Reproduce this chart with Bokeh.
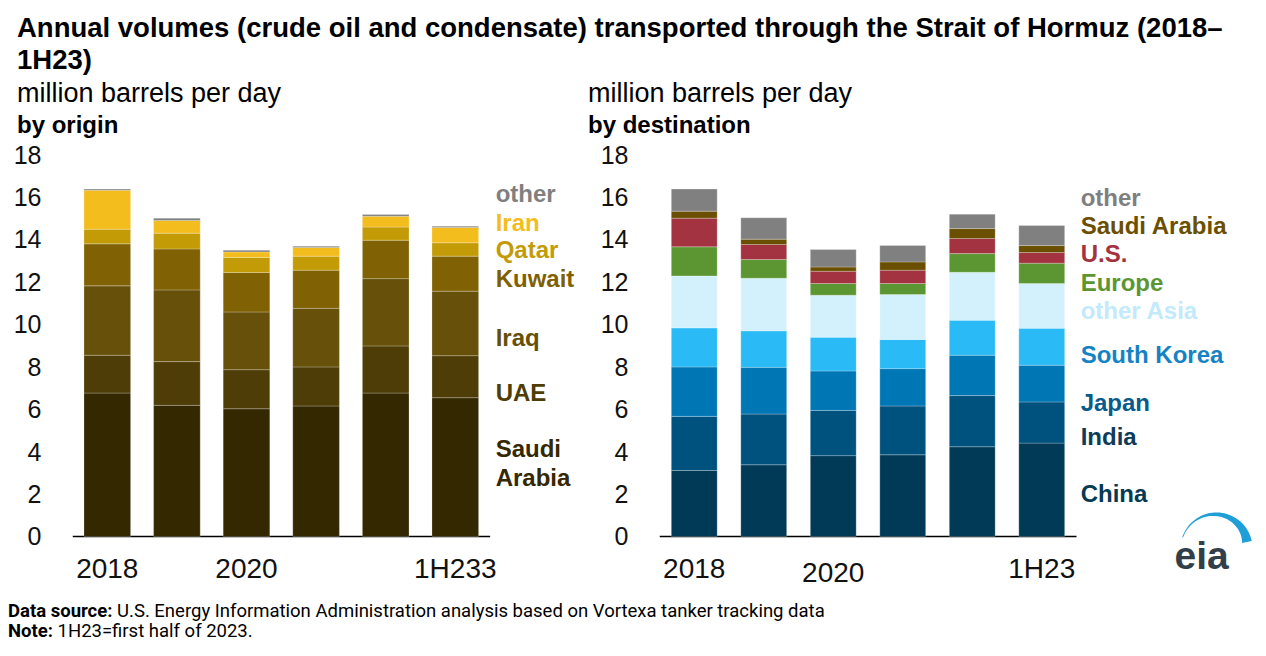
import numpy as np
from bokeh.plotting import figure
from bokeh.models import ColumnDataSource, Range1d, FixedTicker, Div
from bokeh.layouts import column, row
from bokeh.core.properties import value
from bokeh.embed import file_html
from bokeh.resources import INLINE

# ---------------- data ----------------
years = ["2018", "2019", "2020", "2021", "2022", "1H23"]
y_ticks = [0, 2, 4, 6, 8, 10, 12, 14, 16, 18]
left_x_labels = ["2018", "", "2020", "", "", "1H233"]
right_x_labels = ["2018", "", "2020", "", "", "1H23"]

# by origin (million barrels per day)
origin_saudi = [6.76, 6.18, 6.02, 6.15, 6.76, 6.54]
origin_uae = [1.78, 2.06, 1.84, 1.84, 2.22, 1.98]
origin_iraq = [3.27, 3.38, 2.72, 2.76, 3.17, 3.04]
origin_kuwait = [1.98, 1.93, 1.86, 1.80, 1.81, 1.65]
origin_qatar = [0.69, 0.74, 0.71, 0.66, 0.62, 0.63]
origin_iran = [1.84, 0.60, 0.26, 0.41, 0.51, 0.72]
origin_other = [0.05, 0.11, 0.08, 0.06, 0.08, 0.06]

# by destination (million barrels per day)
dest_china = [3.11, 3.38, 3.81, 3.85, 4.23, 4.40]
dest_india = [2.55, 2.39, 2.13, 2.30, 2.41, 1.94]
dest_japan = [2.33, 2.20, 1.86, 1.76, 1.90, 1.73]
dest_korea = [1.84, 1.72, 1.59, 1.37, 1.65, 1.74]
dest_other_asia = [2.45, 2.48, 1.98, 2.12, 2.26, 2.11]
dest_europe = [1.37, 0.88, 0.55, 0.52, 0.88, 0.96]
dest_us = [1.35, 0.71, 0.58, 0.63, 0.71, 0.50]
dest_saudi = [0.33, 0.25, 0.20, 0.39, 0.47, 0.33]
dest_other = [1.04, 1.01, 0.82, 0.77, 0.68, 0.94]

origin_names = ["Saudi", "Arabia", "UAE", "Iraq", "Kuwait", "Qatar", "Iran", "other"]
dest_names = ["China", "India", "Japan", "South Korea", "other Asia", "Europe", "U.S.",
              "Saudi Arabia", "other"]

# ---------------- styles / label positions ----------------
FONT = "Liberation Sans"
origin_keys = ["saudi", "uae", "iraq", "kuwait", "qatar", "iran", "other"]
origin_colors = ["#332800", "#4e3d06", "#67510a", "#806205", "#c29b07", "#f4bd1e", "#7f7f7f"]
origin_text_colors = ["#332800", "#332800", "#4e3d06", "#665009", "#7f6000", "#c29b07",
                      "#f4bd1e", "#7f7f7f"]
origin_label_y = [4.13, 2.77, 6.77, 9.39, 12.14, 13.51, 14.81, 16.15]

dest_keys = ["china", "india", "japan", "korea", "oasia", "europe", "us", "saudi", "other"]
dest_colors = ["#003a57", "#00527e", "#0077b5", "#2abaf5", "#d3f1fd", "#5b9632", "#a33341",
               "#6b4f00", "#808080"]
dest_text_colors = ["#043a52", "#0d3c5a", "#0a5a8a", "#1582c4", "#c2eafc", "#5b9632", "#a33341",
                    "#6b4f00", "#7f7f7f"]
dest_label_y = [2.01, 4.71, 6.33, 8.56, 10.65, 11.98, 13.32, 14.66, 15.99]

left_xlab_y = [-1.51] * 6
right_xlab_y = [-1.51, -1.51, -1.70, -1.51, -1.51, -1.51]

Y_MIN = -2.545
x_pos = [i + 0.5 for i in range(len(years))]


def make_fig(min_left, frame_w, unit_px):
    p = figure(x_range=Range1d(0, frame_w / unit_px), y_range=Range1d(Y_MIN, 18),
               frame_width=frame_w, frame_height=436,
               min_border_left=min_left, min_border_right=0,
               min_border_top=16, min_border_bottom=0,
               toolbar_location=None, output_backend="svg")
    p.outline_line_color = None
    p.xgrid.grid_line_color = None
    p.ygrid.grid_line_color = None
    p.xaxis.visible = False
    p.yaxis.ticker = FixedTicker(ticks=y_ticks)
    p.yaxis.axis_line_color = None
    p.yaxis.major_tick_line_color = None
    p.yaxis.minor_tick_line_color = None
    p.yaxis.major_label_standoff = 25
    p.yaxis.major_label_text_font = FONT
    p.yaxis.major_label_text_font_size = "25px"
    p.yaxis.major_label_text_color = "#111111"
    # baseline (category axis line)
    p.segment(x0=[0], x1=[len(years)], y0=[0], y1=[0], line_color="black", line_width=1.6)
    return p


# ---------------- left: by origin ----------------
src_o = ColumnDataSource(dict(x=x_pos, saudi=origin_saudi, uae=origin_uae, iraq=origin_iraq,
                              kuwait=origin_kuwait, qatar=origin_qatar, iran=origin_iran,
                              other=origin_other))
pl = make_fig(64, 508, 69.6)
pl.vbar_stack(origin_keys, x="x", width=0.67, source=src_o, fill_color=origin_colors,
              line_color="white", line_alpha=0.3, line_width=0.8)
pl.text(x=x_pos, y=left_xlab_y, text=left_x_labels, text_font=value(FONT),
        text_font_size="28px", text_color="#111111", text_align="center",
        text_baseline="middle")
pl.text(x=[6.08] * len(origin_names), y=origin_label_y, text=origin_names,
        text_font=value(FONT), text_font_size="24px", text_font_style="bold",
        text_color=origin_text_colors, text_align="left", text_baseline="middle")

# ---------------- right: by destination ----------------
src_d = ColumnDataSource(dict(x=x_pos, china=dest_china, india=dest_india, japan=dest_japan,
                              korea=dest_korea, oasia=dest_other_asia, europe=dest_europe,
                              us=dest_us, saudi=dest_saudi, other=dest_other))
pr = make_fig(79, 599, 69.5)
pr.vbar_stack(dest_keys, x="x", width=0.66, source=src_d, fill_color=dest_colors,
              line_color="white", line_alpha=0.3, line_width=0.8)
pr.text(x=x_pos, y=right_xlab_y, text=right_x_labels, text_font=value(FONT),
        text_font_size="28px", text_color="#111111", text_align="center",
        text_baseline="middle")
pr.text(x=[6.06] * len(dest_names), y=dest_label_y, text=dest_names,
        text_font=value(FONT), text_font_size="24px", text_font_style="bold",
        text_color=dest_text_colors, text_align="left", text_baseline="middle")

# eia logo (decoration) in the right panel
px0, pxu, py0, pyu = 659.0, 69.5, 536.0, 436.0 / (18 - Y_MIN)
th = np.radians(np.linspace(162, 12, 40))
s = (np.radians(162) - th) / np.radians(150)
t = 0.8 + 9.0 * s ** 1.6
cx, cy, rx, ry = 1216.0, 548.0, 36.0, 36.0
ox = cx + rx * np.cos(th)
oy = cy - ry * np.sin(th)
ix = cx + (rx - t) * np.cos(th)
iy = cy - (ry - t) * np.sin(th)
arc_x = np.concatenate([ox, ix[::-1]])
arc_y = np.concatenate([oy, iy[::-1]])
pr.patch(x=(arc_x - px0) / pxu, y=(py0 - arc_y) / pyu, fill_color="#1f9fd8", line_color=None)
pr.text(x=[(1174 - px0) / pxu], y=[(py0 - 555) / pyu], text=["eia"], text_font=value(FONT),
        text_font_size="39px", text_font_style="bold", text_color="#333f48",
        text_baseline="alphabetic", text_align="left")

# ---------------- texts ----------------
title1 = "Annual volumes (crude oil and condensate) transported through the Strait of Hormuz (2018–"
title2 = "1H23)"
unit = "million barrels per day"
sub_left = "by origin"
sub_right = "by destination"
src_note = "U.S. Energy Information Administration analysis based on Vortexa tanker tracking data"
note = "1H23=first half of 2023."

top_html = f"""
<div style="position:relative;width:1250px;height:130px;font-family:'Liberation Sans',Arial,sans-serif;color:#000;">
 <div style="position:absolute;left:9px;top:4px;font-size:27.5px;font-weight:bold;line-height:32px;white-space:nowrap;">{title1}<br>{title2}</div>
 <div style="position:absolute;left:9px;top:70px;font-size:27px;line-height:30px;white-space:nowrap;">{unit}</div>
 <div style="position:absolute;left:9px;top:102px;font-size:24px;font-weight:bold;line-height:30px;white-space:nowrap;">{sub_left}</div>
 <div style="position:absolute;left:580px;top:70px;font-size:27px;line-height:30px;white-space:nowrap;">{unit}</div>
 <div style="position:absolute;left:580px;top:102px;font-size:24px;font-weight:bold;line-height:30px;white-space:nowrap;">{sub_right}</div>
</div>"""
top_div = Div(text=top_html, width=1250, height=130, margin=(0, 0, 0, 0),
              styles={"margin": "0", "padding": "0"})

foot_html = f"""
<div style="position:relative;width:1250px;height:50px;font-family:Roboto,sans-serif;color:#000;font-size:18.5px;line-height:20px;">
 <div style="position:absolute;left:0px;top:11px;white-space:nowrap;"><b>Data source:</b> {src_note}<br><b>Note:</b> {note}</div>
</div>"""
foot_div = Div(text=foot_html, width=1250, height=50, margin=(0, 0, 0, 0),
               styles={"margin": "0", "padding": "0"})

layout = column(top_div, row(pl, pr, spacing=0), foot_div, spacing=0, margin=(8, 0, 0, 8))
open("out.html", "w").write(file_html(layout, INLINE))
